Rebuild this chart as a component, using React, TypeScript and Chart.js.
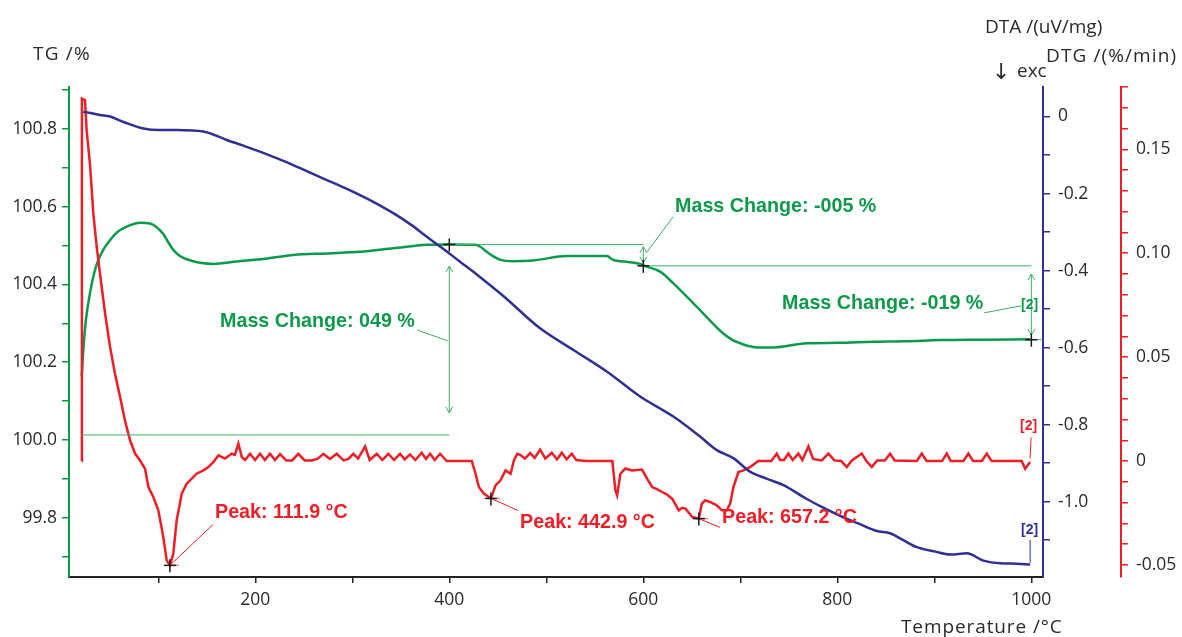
import React, { useEffect, useRef } from "react";
import { Chart, registerables } from "chart.js";

Chart.register(...registerables);

// ---------- axis ranges & ticks ----------
const X_MIN = 8;
const X_MAX = 1012;
const xTicks = [100, 200, 300, 400, 500, 600, 700, 800, 900, 1000];
const xLabels = [200, 400, 600, 800, 1000];

const TG_MIN = 99.6476;
const TG_MAX = 100.908;
const tgTicks = [99.7, 99.8, 99.9, 100.0, 100.1, 100.2, 100.3, 100.4, 100.5, 100.6, 100.7, 100.8, 100.9];
const tgLabels = [99.8, 100.0, 100.2, 100.4, 100.6, 100.8];

const DTA_MIN = -1.1955;
const DTA_MAX = 0.0766;
const dtaTicks = [0, -0.1, -0.2, -0.3, -0.4, -0.5, -0.6, -0.7, -0.8, -0.9, -1.0, -1.1];
const dtaLabels = [0, -0.2, -0.4, -0.6, -0.8, -1.0];

const DTG_MIN = -0.0558;
const DTG_MAX = 0.18;
const dtgTicks = [0.18, 0.17, 0.16, 0.15, 0.14, 0.13, 0.12, 0.11, 0.1, 0.09, 0.08, 0.07, 0.06, 0.05, 0.04, 0.03, 0.02, 0.01, 0, -0.01, -0.02, -0.03, -0.04, -0.05];
const dtgLabels = [0.15, 0.1, 0.05, 0, -0.05];

// ---------- TG (green) ----------
const tgTemp = [21.1, 22.0, 22.7, 25.5, 29.6, 33.5, 38.2, 44, 50.3, 58, 67.5, 75, 81.2, 91.5, 98, 105.2, 110, 115.5, 122, 129.3, 136, 143.1, 156.8, 180.9, 210, 239.2, 275, 308, 342.3, 376.8, 400, 426.6, 432, 438.6, 445, 452.3, 466, 486.7, 521.1, 562.3, 569.2, 580, 596.7, 600, 617.3, 631, 644.8, 658.5, 670, 682.5, 692, 699.8, 708, 717, 734.1, 768.5, 800, 837.2, 870, 906, 950, 998.7];
const tgValue = [100.163, 100.2, 100.23, 100.31, 100.377, 100.425, 100.463, 100.492, 100.514, 100.535, 100.549, 100.556, 100.559, 100.557, 100.548, 100.53, 100.51, 100.489, 100.474, 100.465, 100.46, 100.456, 100.453, 100.459, 100.466, 100.476, 100.48, 100.484, 100.493, 100.502, 100.503, 100.502, 100.497, 100.484, 100.473, 100.464, 100.46, 100.462, 100.473, 100.473, 100.463, 100.459, 100.453, 100.449, 100.433, 100.403, 100.369, 100.334, 100.304, 100.274, 100.257, 100.249, 100.242, 100.238, 100.238, 100.249, 100.25, 100.253, 100.254, 100.257, 100.258, 100.259];

// ---------- DTA (blue) ----------
const dtaTemp = [22.7, 30, 40, 50.3, 65, 84.6, 101.8, 119, 146.5, 160, 170.6, 187, 204.9, 222, 239.2, 256, 273.7, 291, 308, 325, 342.3, 360, 376.8, 394, 411.1, 428.3, 455.7, 493.6, 527.9, 562.3, 596.7, 631, 658.5, 675.7, 692.8, 710, 727, 744.4, 768.5, 785, 802.9, 822, 840.7, 854.4, 868, 881.9, 900, 916.3, 933.5, 950.6, 967.8, 985, 998.7];
const dtaValue = [0.0125, 0.009, 0.004, 0.0, -0.015, -0.031, -0.035, -0.035, -0.039, -0.05, -0.061, -0.075, -0.091, -0.108, -0.126, -0.145, -0.165, -0.184, -0.204, -0.226, -0.251, -0.28, -0.312, -0.344, -0.377, -0.41, -0.466, -0.55, -0.606, -0.662, -0.727, -0.779, -0.831, -0.866, -0.887, -0.922, -0.94, -0.957, -0.993, -1.015, -1.037, -1.057, -1.076, -1.082, -1.1, -1.118, -1.129, -1.137, -1.134, -1.153, -1.16, -1.161, -1.163];

// ---------- DTG (red) ----------
const dtgTemp = [21.0, 21.3, 24.5, 26.2, 29.6, 33.1, 36.6, 40.0, 45.2, 50.3, 55.4, 60.6, 65.7, 70.9, 76.1, 81.2, 86.4, 89.8, 94.9, 100.1, 105.2, 108.7, 112.0, 115.5, 119.0, 124.2, 129.3, 139.6, 146.5, 151.6, 156.8, 162.0, 168.8, 175.7, 179.0, 182.6, 186.1, 189.5, 194.6, 199.8, 204.9, 210.0, 215.2, 220.3, 225.5, 232.0, 238.0, 244.4, 251.0, 258.0, 264.0, 270.2, 277.0, 284.0, 291.0, 296.0, 301.1, 306.0, 313.2, 318.0, 325.2, 331.0, 337.2, 343.0, 349.2, 354.0, 359.5, 365.0, 371.6, 376.0, 380.2, 385.0, 390.5, 397.4, 423.2, 427.1, 430.5, 435.6, 442.9, 447.7, 452.8, 458.0, 463.2, 466.6, 470.1, 473.0, 478.0, 483.4, 488.0, 493.7, 499.0, 505.7, 511.0, 516.0, 521.0, 526.2, 531.0, 541.0, 568.1, 571.2, 573.0, 576.4, 581.5, 588.4, 598.7, 603.9, 609.1, 614.0, 619.4, 624.0, 629.7, 636.6, 640.0, 643.5, 650.4, 657.2, 660.3, 663.7, 668.8, 675.7, 680.9, 686.0, 689.5, 692.9, 698.0, 703.2, 710.0, 718.6, 732.0, 737.5, 741.0, 745.0, 749.5, 754.0, 759.8, 764.0, 770.2, 775.0, 784.0, 790.8, 797.0, 804.0, 809.7, 815.0, 825.2, 830.0, 835.5, 841.0, 849.0, 854.4, 859.0, 882.0, 887.0, 892.0, 908.0, 912.8, 917.0, 930.0, 935.1, 940.0, 949.0, 954.1, 959.0, 990.0, 993.6, 998.7];
const dtgValue = [0.0, 0.1744, 0.1736, 0.159, 0.143, 0.119, 0.103, 0.09, 0.071, 0.055, 0.042, 0.031, 0.0195, 0.01, 0.0036, 0.0003, -0.0037, -0.0125, -0.0173, -0.0237, -0.0366, -0.0478, -0.0502, -0.0446, -0.0285, -0.0157, -0.0109, -0.0061, -0.0045, -0.0029, -0.0005, 0.0027, 0.0012, 0.0036, 0.003, 0.0084, 0.0019, 0.0005, 0.0035, 0.0005, 0.0035, 0.0005, 0.0035, 0.0005, 0.0033, 0.0003, 0.0003, 0.0035, 0.0003, 0.0003, 0.001, 0.0035, 0.001, 0.0035, 0.0003, 0.001, 0.0035, 0.0012, 0.007, 0.0005, 0.0035, 0.0005, 0.0035, 0.0005, 0.0035, 0.0008, 0.0032, 0.0005, 0.004, 0.001, 0.0035, 0.0005, 0.0035, 0.0, 0.0, -0.0061, -0.0125, -0.0156, -0.018, -0.0117, -0.0093, -0.0045, -0.0061, 0.0003, 0.0035, 0.003, 0.0012, 0.0038, 0.0015, 0.0055, 0.0012, 0.004, 0.0008, 0.004, 0.0008, 0.0035, 0.0005, 0.0, 0.0, -0.014, -0.0165, -0.0061, -0.0036, -0.0045, -0.0041, -0.0085, -0.0125, -0.0135, -0.0149, -0.016, -0.0181, -0.0237, -0.0225, -0.0229, -0.0269, -0.0277, -0.0205, -0.0189, -0.0197, -0.0213, -0.0237, -0.0237, -0.0205, -0.0125, -0.0053, -0.0045, -0.0029, 0.0, 0.0, 0.0036, 0.0005, 0.0005, 0.0036, 0.0005, 0.0036, 0.0005, 0.0071, 0.001, 0.0003, 0.0036, 0.0003, 0.0, -0.0029, 0.0003, 0.0036, 0.0, -0.0029, 0.0003, 0.0003, 0.0036, 0.0003, 0.0, 0.0036, 0.0, 0.0, 0.0036, 0.0, 0.0, 0.0036, 0.0, 0.0, 0.0036, 0.0, 0.0, -0.0037, -0.0005];

// ---------- annotations (data coordinates) ----------
const massText = ["Mass Change: 049 %", "Mass Change: -005 %", "Mass Change: -019 %"];
const massTextPos = [[163.7, 100.305], [632.7, 100.6], [743, 100.352]];
const massStart = [21, 400, 600];
const massEnd = [400, 600, 1000];
const massUpper = [100.503, 100.503, 100.448];
const massLower = [100.013, 100.448, 100.258];
const massArrow = [[100.447, 100.07], [100.497, 100.456], [100.427, 100.27]];
const massLeader = [
  [[366.8, 100.283], [398.5, 100.255]],
  [[630.7, 100.574], [603.9, 100.484]],
  [[951.3, 100.327], [989.4, 100.345]],
];

const peakText = ["Peak: 111.9 °C", "Peak: 442.9 °C", "Peak: 657.2 °C"];
const peakTemp = [112.0, 442.9, 657.2];
const peakValue = [-0.0502, -0.018, -0.0277];
const peakTextPos = [[158.5, -0.0247], [473, -0.0295], [681.2, -0.0271]];
const peakLeaderEnd = [[156.5, -0.0305], [470.9, -0.0238], [679.1, -0.0319]];

const GREEN = "#0C9A4A";
const GREEN_THIN = "#3DAE66";
const BLUE = "#2E3192";
const RED = "#EE1D26";
const TEXT = "#2a2a2a";
const TICK_FONT = "'Open Sans', 'Noto Sans', sans-serif";
const ANN_FONT = "'Liberation Sans', Arial, sans-serif";

const near = (list: number[], v: number) => list.some((l) => Math.abs(l - v) < 1e-6);

const annotationPlugin = {
  id: "tgaAnnotations",
  afterDatasetsDraw(chart: any) {
    const ctx: CanvasRenderingContext2D = chart.ctx;
    const sx = chart.scales.x;
    const sTG = chart.scales.yTG;
    const sDTA = chart.scales.yDTA;
    const sDTG = chart.scales.yDTG;
    const X = (v: number) => sx.getPixelForValue(v);

    const seg = (x1: number, y1: number, x2: number, y2: number, color: string, w: number) => {
      ctx.beginPath();
      ctx.strokeStyle = color;
      ctx.lineWidth = w;
      ctx.moveTo(x1, y1);
      ctx.lineTo(x2, y2);
      ctx.stroke();
    };
    const cross = (x: number, y: number) => {
      seg(x - 6, y, x + 6, y, "#1a1a1a", 1.5);
      seg(x, y - 6, x, y + 7, "#1a1a1a", 1.5);
    };
    const head = (x: number, y: number, dir: number, color: string) => {
      ctx.beginPath();
      ctx.strokeStyle = color;
      ctx.lineWidth = 1;
      ctx.moveTo(x - 3.5, y - dir * 6);
      ctx.lineTo(x, y);
      ctx.lineTo(x + 3.5, y - dir * 6);
      ctx.stroke();
    };
    const text = (s: string, x: number, y: number, color: string, font: string) => {
      ctx.fillStyle = color;
      ctx.font = font;
      ctx.textAlign = "left";
      ctx.textBaseline = "middle";
      ctx.fillText(s, x, y);
    };

    ctx.save();
    for (let i = 0; i < massText.length; i++) {
      const yU = sTG.getPixelForValue(massUpper[i]);
      const yL = sTG.getPixelForValue(massLower[i]);
      const x0 = X(massStart[i]);
      const x1 = X(massEnd[i]);
      if (i === 0) {
        seg(x0, yL, x1, yL, GREEN_THIN, 1);
      } else {
        seg(x0, yU, x1, yU, GREEN_THIN, 1);
      }
      const a0 = sTG.getPixelForValue(massArrow[i][0]);
      const a1 = sTG.getPixelForValue(massArrow[i][1]);
      seg(x1, a0, x1, a1, GREEN_THIN, 1);
      head(x1, a0, -1, GREEN_THIN);
      head(x1, a1, 1, GREEN_THIN);
      const l = massLeader[i];
      seg(X(l[0][0]), sTG.getPixelForValue(l[0][1]), X(l[1][0]), sTG.getPixelForValue(l[1][1]), GREEN_THIN, 1);
      text(massText[i], X(massTextPos[i][0]), sTG.getPixelForValue(massTextPos[i][1]), GREEN, `bold 19.7px ${ANN_FONT}`);
    }
    const yEnd = sTG.getPixelForValue(massLower[2]);
    seg(X(994), yEnd, X(1012), yEnd, GREEN_THIN, 1);
    cross(X(massEnd[0]), sTG.getPixelForValue(massUpper[0]));
    cross(X(massEnd[1]), sTG.getPixelForValue(massLower[1]));
    cross(X(massEnd[2]), sTG.getPixelForValue(massLower[2]));

    for (let i = 0; i < peakText.length; i++) {
      const px = X(peakTemp[i]);
      const py = sDTG.getPixelForValue(peakValue[i]);
      seg(px, py, X(peakLeaderEnd[i][0]), sDTG.getPixelForValue(peakLeaderEnd[i][1]), RED, 1);
      seg(px, py, px + 9, py, "#F47C80", 1.5);
      cross(px, py);
      text(peakText[i], X(peakTextPos[i][0]), sDTG.getPixelForValue(peakTextPos[i][1]), RED, `bold 19.7px ${ANN_FONT}`);
    }

    const endT = 998.7;
    const gx = X(endT);
    text("[2]", gx - 9, sTG.getPixelForValue(100.347), GREEN, `bold 14px ${ANN_FONT}`);
    text("[2]", gx - 10, sDTG.getPixelForValue(0.0167), RED, `bold 14px ${ANN_FONT}`);
    seg(gx + 1, sDTG.getPixelForValue(0.0114), gx, sDTG.getPixelForValue(0.0013), RED, 1);
    text("[2]", gx - 9, sDTA.getPixelForValue(-1.0735), BLUE, `bold 14px ${ANN_FONT}`);
    seg(gx, sDTA.getPixelForValue(-1.0995), gx, sDTA.getPixelForValue(-1.159), BLUE, 1);
    ctx.restore();
  },
  afterDraw(chart: any) {
    const ctx: any = chart.ctx;
    ctx.save();
    ctx.fillStyle = TEXT;
    ctx.textAlign = "left";
    ctx.textBaseline = "middle";
    ctx.font = `19px ${TICK_FONT}`;
    const title = (s: string, x: number, y: number, spacing: number) => {
      ctx.letterSpacing = `${spacing}px`;
      ctx.fillText(s, x, y);
      ctx.letterSpacing = "0px";
    };
    title("TG /%", 33, 55, 1.2);
    title("DTA /(uV/mg)", 985, 28, 0);
    title("DTG /(%/min)", 1046, 57, 1.1);
    title("exc", 1017, 72, 0);
    title("Temperature /°C", 901, 628, 0.9);
    ctx.font = `22px 'DejaVu Sans', sans-serif`;
    ctx.fillText("↓", 992, 73);
    ctx.restore();
  },
};

export default function App() {
  const ref = useRef<HTMLCanvasElement | null>(null);

  useEffect(() => {
    if (!ref.current) return;
    const pts = (xs: number[], ys: number[]) => xs.map((x, i) => ({ x, y: ys[i] }));
    const tickFont = { family: TICK_FONT, size: 17.5 };

    const chart = new Chart(ref.current, {
      type: "line",
      data: {
        datasets: [
          {
            label: "DTA",
            data: pts(dtaTemp, dtaValue),
            yAxisID: "yDTA",
            borderColor: BLUE,
            borderWidth: 2.5,
            pointRadius: 0,
            cubicInterpolationMode: "monotone",
            order: 0,
          },
          {
            label: "DTG",
            data: pts(dtgTemp, dtgValue),
            yAxisID: "yDTG",
            borderColor: RED,
            borderWidth: 2.5,
            pointRadius: 0,
            tension: 0,
            order: 1,
          },
          {
            label: "TG",
            data: pts(tgTemp, tgValue),
            yAxisID: "yTG",
            borderColor: GREEN,
            borderWidth: 2.5,
            pointRadius: 0,
            cubicInterpolationMode: "monotone",
            order: 2,
          },
        ],
      },
      options: {
        responsive: false,
        animation: false,
        devicePixelRatio: 1,
        layout: { padding: { top: 87, left: 0, right: 0, bottom: 0 } },
        plugins: { legend: { display: false }, tooltip: { enabled: false } },
        scales: {
          x: {
            type: "linear",
            position: "bottom",
            min: X_MIN,
            max: X_MAX,
            afterBuildTicks: (s: any) => {
              s.ticks = xTicks.map((v) => ({ value: v }));
            },
            afterFit: (s: any) => {
              s.height = 60;
            },
            grid: { drawOnChartArea: false, drawTicks: true, tickLength: 6, color: "#222", lineWidth: 1.5 },
            border: { display: true, color: "#222", width: 2 },
            ticks: {
              autoSkip: false,
              maxRotation: 0,
              padding: 7,
              color: TEXT,
              font: tickFont,
              callback: (v: any) => (near(xLabels, Number(v)) ? String(v) : ""),
            },
          },
          yTG: {
            type: "linear",
            position: "left",
            min: TG_MIN,
            max: TG_MAX,
            afterBuildTicks: (s: any) => {
              s.ticks = tgTicks.map((v) => ({ value: v }));
            },
            afterFit: (s: any) => {
              s.width = 69;
            },
            grid: { drawOnChartArea: false, drawTicks: true, tickLength: 7, color: GREEN, lineWidth: 1.5 },
            border: { display: true, color: GREEN, width: 2 },
            ticks: {
              autoSkip: false,
              padding: 5,
              color: TEXT,
              font: tickFont,
              callback: (v: any) => (near(tgLabels, Number(v)) ? Number(v).toFixed(1) : ""),
            },
          },
          yDTA: {
            type: "linear",
            position: "right",
            weight: 0,
            min: DTA_MIN,
            max: DTA_MAX,
            afterBuildTicks: (s: any) => {
              s.ticks = dtaTicks.map((v) => ({ value: v }));
            },
            afterFit: (s: any) => {
              s.width = 78;
            },
            grid: { drawOnChartArea: false, drawTicks: true, tickLength: 7, color: BLUE, lineWidth: 1.5 },
            border: { display: true, color: BLUE, width: 2 },
            ticks: {
              autoSkip: false,
              padding: 8,
              color: TEXT,
              font: tickFont,
              callback: (v: any) => {
                const n = Number(v);
                if (!near(dtaLabels, n)) return "";
                return Math.abs(n) < 1e-9 ? "0" : n.toFixed(1);
              },
            },
          },
          yDTG: {
            type: "linear",
            position: "right",
            weight: 1,
            min: DTG_MIN,
            max: DTG_MAX,
            afterBuildTicks: (s: any) => {
              s.ticks = dtgTicks.map((v) => ({ value: v }));
            },
            afterFit: (s: any) => {
              s.width = 61;
            },
            grid: { drawOnChartArea: false, drawTicks: true, tickLength: 7, color: RED, lineWidth: 1.5 },
            border: { display: true, color: RED, width: 2 },
            ticks: {
              autoSkip: false,
              padding: 8,
              color: TEXT,
              font: tickFont,
              callback: (v: any) => {
                const n = Number(v);
                if (!near(dtgLabels, n)) return "";
                return Math.abs(n) < 1e-9 ? "0" : n.toFixed(2);
              },
            },
          },
        },
      } as any,
      plugins: [annotationPlugin],
    });

    return () => {
      chart.destroy();
    };
  }, []);

  return (
    <div style={{ position: "fixed", left: 0, top: 0, width: 1182, height: 637, background: "#fff" }}>
      <canvas ref={ref} width={1182} height={637} style={{ display: "block", width: 1182, height: 637 }} />
    </div>
  );
}
